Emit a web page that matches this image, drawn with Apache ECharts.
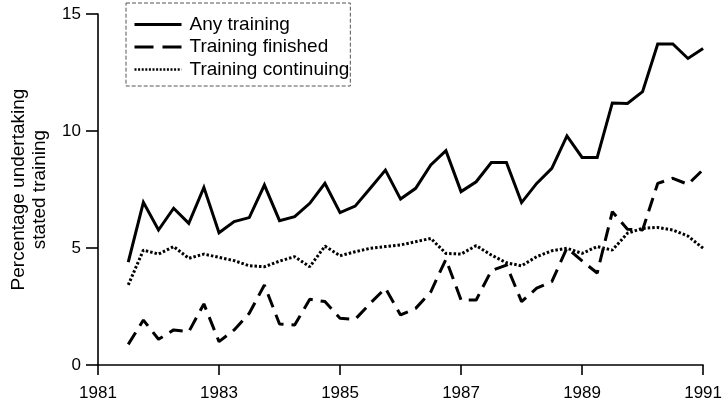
<!DOCTYPE html>
<html>
<head>
<meta charset="utf-8">
<script src="https://cdn.jsdelivr.net/npm/echarts@6/dist/echarts.min.js"></script>
<style>html,body{margin:0;padding:0;background:#fff}#c{width:725px;height:405px}</style>
</head>
<body>
<div id="c"></div>
<script>
// Quarterly observations (decimal year)
var times = [1981.5,1981.75,1982,1982.25,1982.5,1982.75,1983,1983.25,1983.5,1983.75,
  1984,1984.25,1984.5,1984.75,1985,1985.25,1985.5,1985.75,1986,1986.25,
  1986.5,1986.75,1987,1987.25,1987.5,1987.75,1988,1988.25,1988.5,1988.75,
  1989,1989.25,1989.5,1989.75,1990,1990.25,1990.5,1990.75,1991];
var anyTraining = [4.4,6.95,5.77,6.7,6.05,7.59,5.65,6.13,6.3,7.69,
  6.17,6.34,6.91,7.76,6.51,6.79,7.55,8.33,7.09,7.55,
  8.55,9.16,7.41,7.83,8.65,8.65,6.94,7.76,8.4,9.79,
  8.87,8.87,11.2,11.18,11.68,13.72,13.72,13.1,13.53];
var trainingFinished = [0.88,1.92,1.1,1.5,1.42,2.61,1.0,1.5,2.21,3.42,
  1.75,1.71,2.81,2.71,2.0,1.95,2.64,3.28,2.14,2.42,
  3.13,4.52,2.78,2.78,4.03,4.27,2.71,3.28,3.56,5.0,
  4.45,3.93,6.55,5.8,5.77,7.76,7.98,7.72,8.35];
var trainingContinuing = [3.42,4.91,4.74,5.06,4.56,4.74,4.6,4.46,4.24,4.2,
  4.44,4.63,4.2,5.08,4.67,4.84,4.99,5.06,5.13,5.27,
  5.41,4.77,4.74,5.1,4.7,4.37,4.24,4.63,4.88,4.99,
  4.77,5.06,4.91,5.63,5.84,5.88,5.77,5.51,4.99];
var seriesNames = ['Any training','Training finished','Training continuing'];
var xTicks = [1981,1983,1985,1987,1989,1991];
var yTicks = [0,5,10,15];

function pairs(vals){ return vals.map(function(v,i){ return [times[i], v]; }); }

var font = 'Liberation Sans, Arial, Helvetica, sans-serif';
var chart = echarts.init(document.getElementById('c'), null, {renderer:'canvas'});
chart.setOption({
  animation:false,
  backgroundColor:'#fff',
  textStyle:{fontFamily:font,color:'#000'},
  grid:{left:94,right:18,top:14,bottom:40,containLabel:false},
  legend:{
    orient:'vertical', left:126, top:3,
    padding:[12,1,7,7], itemGap:3.5, itemWidth:47, itemHeight:12,
    borderColor:'#555', borderWidth:1, borderType:[4,2],
    itemStyle:{opacity:0, borderWidth:0},
    lineStyle:{width:3, color:'#000'},
    textStyle:{fontFamily:font,fontSize:19,color:'#000',padding:[0,0,0,3]},
    data:[
      {name:seriesNames[0], lineStyle:{width:3,type:'solid'}},
      {name:seriesNames[1], lineStyle:{width:3,type:[19,9]}},
      {name:seriesNames[2], lineStyle:{width:2.5,type:[2,1.6]}}
    ],
    selectedMode:false
  },
  xAxis:{
    type:'value', min:1981, max:1991, interval:2,
    axisLine:{show:true,lineStyle:{color:'#000',width:1.6}},
    axisTick:{show:true,length:10,lineStyle:{color:'#000',width:1.6}},
    axisLabel:{fontFamily:font,fontSize:17,color:'#000',margin:20,
      formatter:function(v){ return xTicks.indexOf(v)>=0 ? String(v) : ''; }},
    splitLine:{show:false}
  },
  yAxis:{
    type:'value', min:0, max:15, interval:5,
    name:'Percentage undertaking\nstated training', nameLocation:'middle', nameGap:48,
    nameTextStyle:{fontFamily:font,fontSize:19,color:'#000',lineHeight:21},
    axisLine:{show:true,lineStyle:{color:'#000',width:1.6}},
    axisTick:{show:true,length:12,lineStyle:{color:'#000',width:1.6}},
    axisLabel:{fontFamily:font,fontSize:17,color:'#000',margin:17,
      formatter:function(v){ return yTicks.indexOf(v)>=0 ? String(v) : ''; }},
    splitLine:{show:false}
  },
  series:[
    {name:seriesNames[0], type:'line', data:pairs(anyTraining), symbol:'none',
      lineStyle:{color:'#000',width:3,type:'solid',join:'miter'}, itemStyle:{color:'#000'}},
    {name:seriesNames[1], type:'line', data:pairs(trainingFinished), symbol:'none',
      lineStyle:{color:'#000',width:3,type:[14,8]}, itemStyle:{color:'#000'}},
    {name:seriesNames[2], type:'line', data:pairs(trainingContinuing), symbol:'none',
      lineStyle:{color:'#000',width:3,type:[2.5,2]}, itemStyle:{color:'#000'}}
  ]
});
</script>
</body>
</html>
